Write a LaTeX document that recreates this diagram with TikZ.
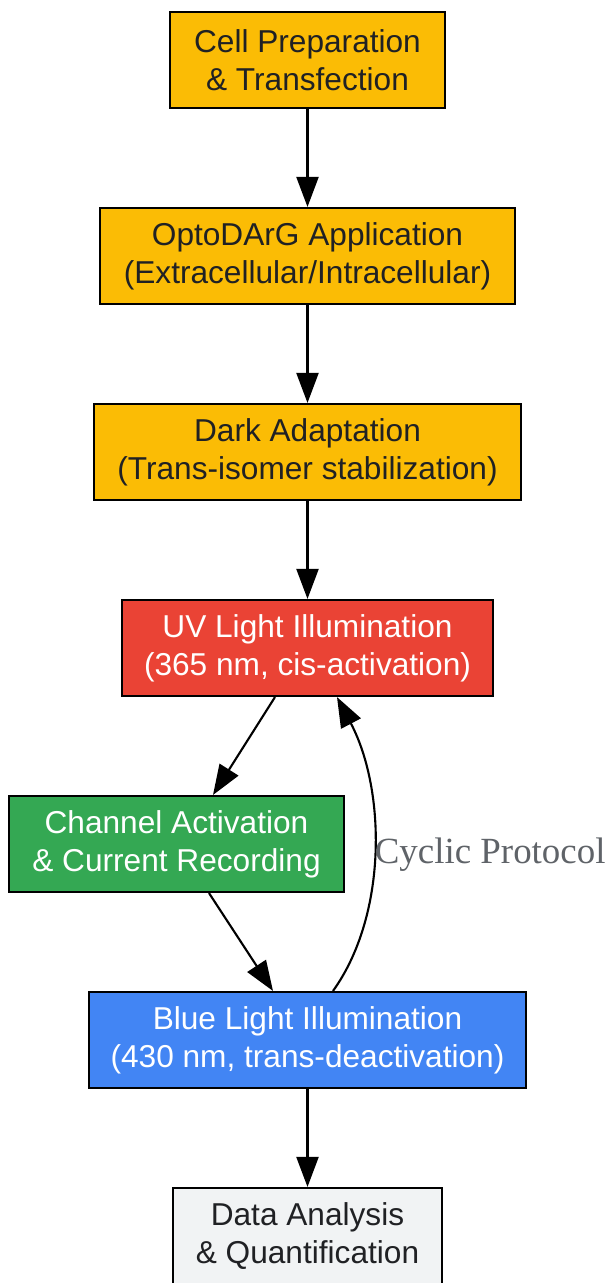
\documentclass[tikz,border=0pt]{standalone}
\usepackage{fontspec}
\setmainfont{Liberation Sans}
\newfontfamily\seriffont{Liberation Serif}
\usetikzlibrary{arrows.meta,positioning}
\definecolor{gyellow}{HTML}{FBBC05}
\definecolor{gred}{HTML}{EA4335}
\definecolor{ggreen}{HTML}{34A853}
\definecolor{gblue}{HTML}{4285F4}
\definecolor{ggrey}{HTML}{F1F3F4}
\definecolor{gtext}{HTML}{202124}
\definecolor{glabel}{HTML}{5F6368}

\begin{document}
\begin{tikzpicture}[line width=1.2pt,
  stepbox/.style={draw=black,rectangle,minimum height=1.92cm,align=center,
    font=\fontsize{18}{21.5}\selectfont,inner sep=0pt},
  darkbox/.style={stepbox,fill=gyellow,text=gtext},
  lightbox/.style={stepbox,text=white},
  flow/.style={-{Triangle[length=0.6cm,width=0.44cm]}},
  lbl/.style={font=\seriffont\fontsize{21}{24}\selectfont,text=glabel,inner sep=0pt}]
\useasboundingbox (0,0) rectangle (12.18,-25.66);
\node[darkbox,minimum width=5.5cm] (prep) at (6.15,-1.2) {Cell Preparation\\\& Transfection};
\node[darkbox,minimum width=8.3cm] (opto) at (6.15,-5.12) {OptoDArG Application\\(Extracellular/Intracellular)};
\node[darkbox,minimum width=8.54cm] (dark) at (6.15,-9.04) {Dark Adaptation\\(Trans-isomer stabilization)};
\node[lightbox,fill=gred,minimum width=7.42cm] (uv) at (6.15,-12.96) {UV Light Illumination\\(365 nm, cis-activation)};
\node[lightbox,fill=ggreen,minimum width=6.7cm] (chan) at (3.53,-16.88) {Channel Activation\\\& Current Recording};
\node[lightbox,fill=gblue,minimum width=8.74cm] (blue) at (6.15,-20.8) {Blue Light Illumination\\(430 nm, trans-deactivation)};
\node[stepbox,fill=ggrey,text=gtext,minimum width=5.38cm] (data) at (6.15,-24.72) {Data Analysis\\\& Quantification};
\draw[flow] (prep) -- (opto);
\draw[flow] (opto) -- (dark);
\draw[flow] (dark) -- (uv);
\draw[flow] ([xshift=-0.65cm]uv.south) -- ([xshift=0.73cm]chan.north);
\draw[flow] ([xshift=0.65cm]chan.south) -- ([xshift=-0.69cm]blue.north);
\draw[flow] ([xshift=0.51cm]blue.north) .. controls (7.75,-18.3) and (7.72,-15.8) .. node[right=0pt,lbl,yshift=-0.08cm] {Cyclic Protocol} ([xshift=0.59cm]uv.south);
\draw[flow] (blue) -- (data);
\end{tikzpicture}
\end{document}
